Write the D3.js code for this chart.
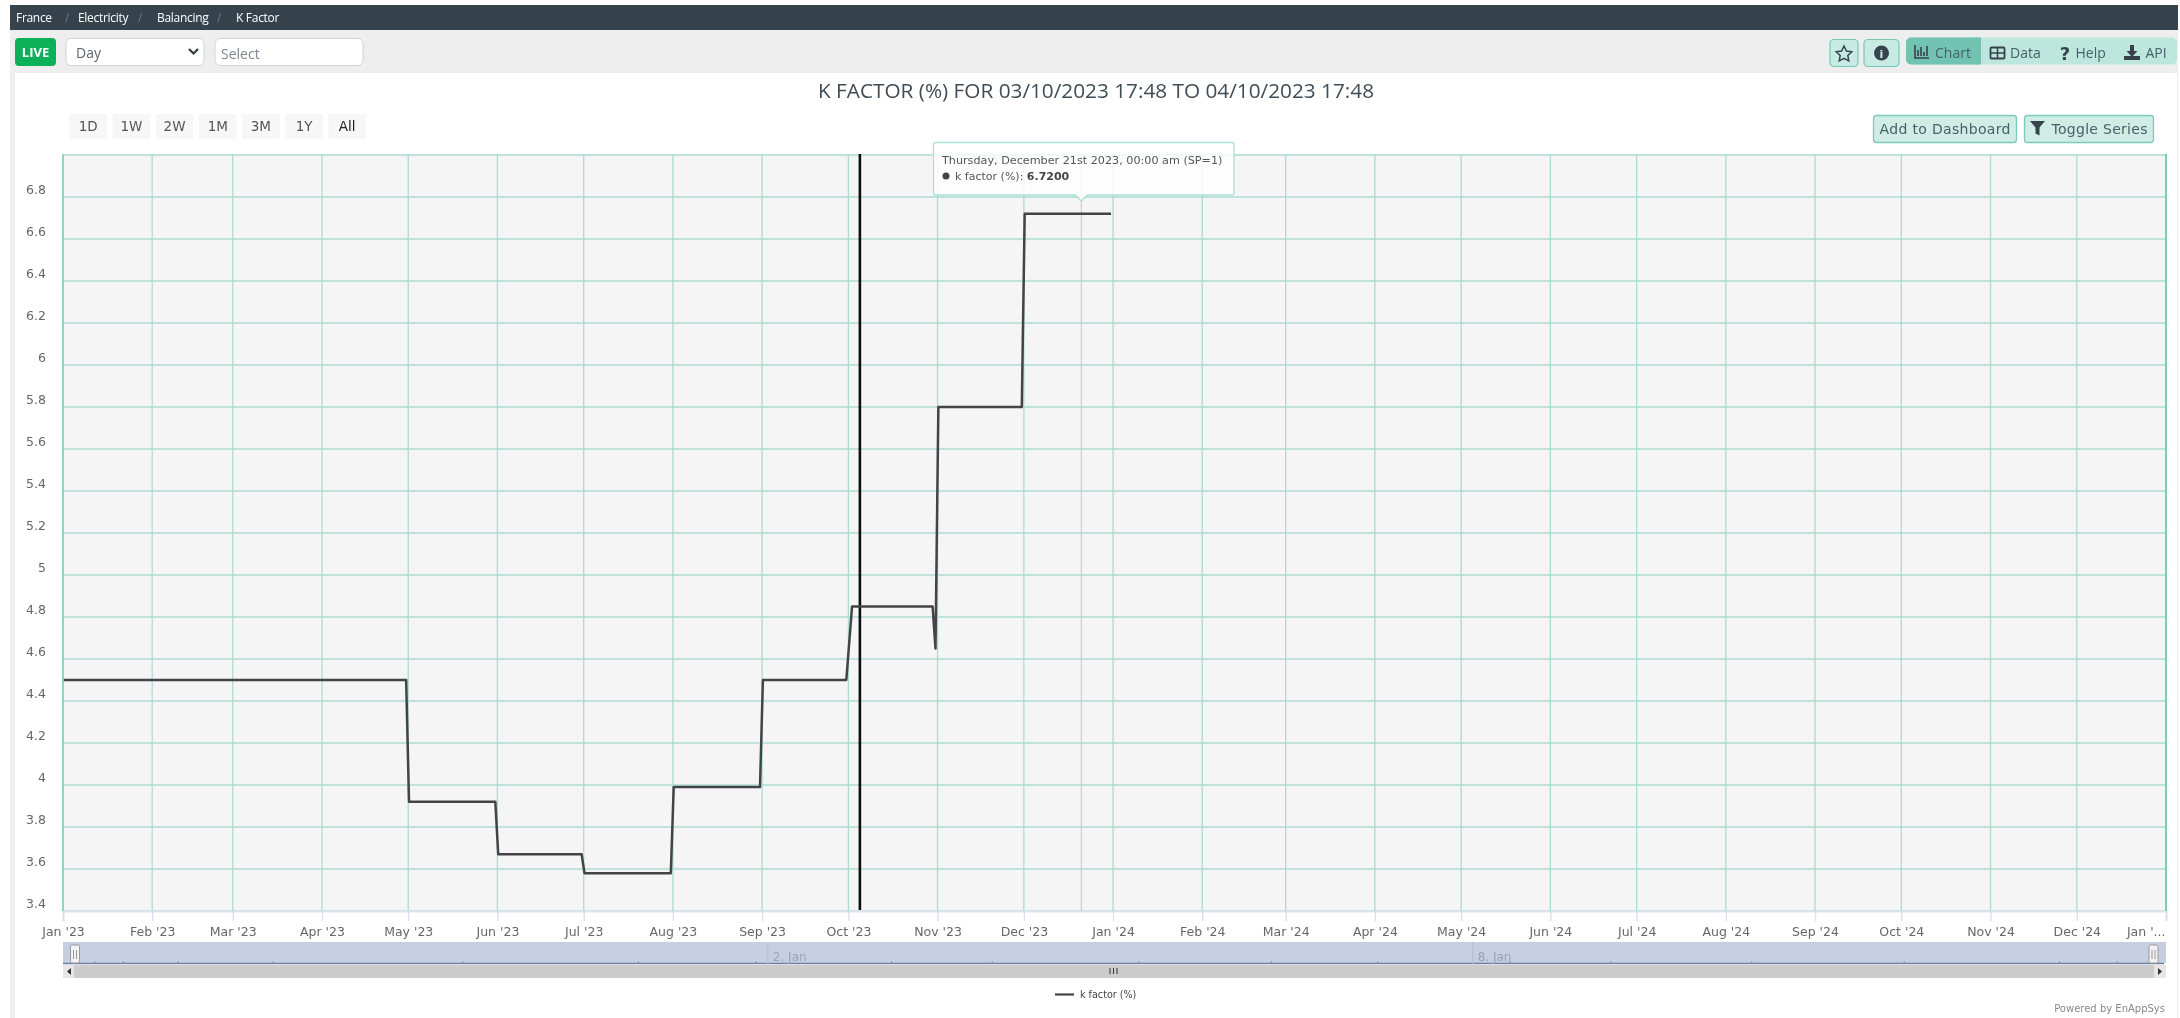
<!DOCTYPE html>
<html><head><meta charset="utf-8">
<script src="https://cdn.jsdelivr.net/npm/d3@7"></script>
<style>
html,body{margin:0;padding:0;background:#fff;overflow:hidden}
svg{display:block;filter:blur(0.45px)}
text{font-family:"DejaVu Sans",sans-serif}
.os{font-family:"Open Sans",sans-serif}
</style></head><body><svg id="c" width="2180" height="1018"></svg>
<script>
const breadcrumb=["France","Electricity","Balancing","K Factor"];
const rangeButtons=["1D","1W","2W","1M","3M","1Y","All"];
const titleText="K FACTOR (%) FOR 03/10/2023 17:48 TO 04/10/2023 17:48";
const seriesName="k factor (%)";
const stepDates=["2023-01-01","2023-04-30","2023-05-01","2023-05-31","2023-06-01","2023-06-30","2023-07-01","2023-07-31","2023-08-01","2023-08-31","2023-09-01","2023-09-30","2023-10-02","2023-10-30","2023-10-31","2023-11-01","2023-11-30","2023-12-01","2023-12-31"];
const stepValues=[4.5,4.5,3.92,3.92,3.67,3.67,3.58,3.58,3.99,3.99,4.5,4.5,4.85,4.85,4.65,5.8,5.8,6.72,6.72];
const yTicks=[3.4,3.6,3.8,4,4.2,4.4,4.6,4.8,5,5.2,5.4,5.6,5.8,6,6.2,6.4,6.6,6.8,7];
const yHiddenLabels=[7];
const xMonths=["2023-01-01","2023-02-01","2023-03-01","2023-04-01","2023-05-01","2023-06-01","2023-07-01","2023-08-01","2023-09-01","2023-10-01","2023-11-01","2023-12-01","2024-01-01","2024-02-01","2024-03-01","2024-04-01","2024-05-01","2024-06-01","2024-07-01","2024-08-01","2024-09-01","2024-10-01","2024-11-01","2024-12-01","2025-01-01"];
const markerDate="2023-10-05";
const hoverDate="2023-12-21";
const tooltipLine1="Thursday, December 21st 2023, 00:00 am (SP=1)";
const tooltipValue="6.7200";
const navLabels=[["2. Jan","2023-09-03"],["8. Jan","2024-05-05"]];
const navTickDates=["2023-01-12","2023-01-22","2023-02-10","2023-03-15","2023-05-20","2023-07-20","2023-08-30","2023-10-16","2023-11-20","2024-01-10","2024-02-25","2024-04-02","2024-05-18","2024-06-22","2024-08-10","2024-10-02","2024-11-25","2024-12-15"];

const P=d=>d3.utcParse("%Y-%m-%d")(d);
const svg=d3.select("#c");
const L=63,R=2166,T=154,B=911;
const x=d3.scaleUtc().domain([P("2023-01-01"),P("2025-01-01")]).range([L,R]);
const y=d3.scaleLinear().domain([3.4,7]).range([B,T+1]);
const rect=(a,b,w,h,f,o={})=>svg.append("rect").attr("x",a).attr("y",b).attr("width",w).attr("height",h).attr("fill",f).attr("rx",o.r||0).attr("stroke",o.s||"none").attr("stroke-width",o.sw||1);
const txt=(a,b,s,size,f,o={})=>svg.append("text").attr("x",a).attr("y",b).text(s).attr("font-size",size).attr("fill",f).attr("text-anchor",o.a||"start").attr("font-weight",o.w||"normal").attr("class",o.c||null);

// page chrome
rect(10,30,2168,988,"#eeeeee");
rect(15,73,2162,945,"#ffffff");
rect(10,5,2168,25,"#36434c");
const crumbX=[16,78,157,236];
breadcrumb.forEach((b,i)=>{txt(crumbX[i],22,b,12,"#ffffff",{c:"os"}).attr("letter-spacing","-0.3");
 if(i<3) txt(crumbX[i]+[49,60,60][i],22,"/",12,"#6d7a83",{c:"os"});});
// toolbar
rect(15,38,41,28,"#0cb058",{r:4});
txt(35.5,57,"LIVE",13,"#ffffff",{a:"middle",w:"bold",c:"os"});
rect(66,38.5,138,27,"#ffffff",{r:5,s:"#ced4da"});
txt(76,58,"Day",14,"#5b6670",{c:"os"});
svg.append("path").attr("d","M189 49l4.500 4.500 4.500-4.500").attr("fill","none").attr("stroke","#343a40").attr("stroke-width",2.2);
rect(215,38.5,148,27,"#ffffff",{r:5,s:"#ced4da"});
txt(221,59,"Select",14,"#7d8790",{c:"os"});
// right toolbar
rect(1830,39.500,28,27,"#c7eae2",{r:4,s:"#74c8b6",sw:1.2});
svg.append("path").attr("d","M1844 46l2.400 5 5.400.7-4 3.800 1 5.400-4.800-2.600-4.800 2.600 1-5.400-4-3.800 5.400-.7z").attr("fill","none").attr("stroke","#38454e").attr("stroke-width",1.5);
rect(1864,39.500,35,27,"#c7eae2",{r:4,s:"#74c8b6",sw:1.2});
svg.append("circle").attr("cx",1881.500).attr("cy",53).attr("r",7.500).attr("fill","#36434c");
txt(1881.500,57.500,"i",11,"#c7eae2",{a:"middle",w:"bold"});
rect(1906,37.500,271,27,"#bde6dd",{r:5});
rect(1906,37.500,75,27,"#72c3b1",{r:5});
rect(1975,37.500,6,27,"#72c3b1");
svg.append("path").attr("d","M1915 45v13h14M1918 50v6M1921 47v9M1924 52v4M1927 46v10").attr("fill","none").attr("stroke","#36434c").attr("stroke-width",1.6);
txt(1935,58,"Chart",14,"#47606a",{c:"os"});
rect(1990.500,47.500,14,11,"none",{s:"#36434c",sw:1.8,r:1});
svg.append("path").attr("d","M1990 53h15M1997.500 47v11").attr("stroke","#36434c").attr("stroke-width",1.5);
txt(2010,58,"Data",14,"#47606a",{c:"os"});
txt(2065,60,"?",18,"#36434c",{a:"middle",w:"bold"});
txt(2075.500,58,"Help",14,"#47606a",{c:"os"});
svg.append("path").attr("d","M2125 45h4v6h3.500l-5.500 6-5.500-6h3.500zM2119 56h16v4h-16z").attr("fill","#36434c").attr("transform","translate(5,0)");
txt(2145.500,58,"API",14,"#47606a",{c:"os"});
// title
txt(1096,98,titleText,20,"#3f4c55",{a:"middle",c:"os"}).attr("textLength",556).attr("lengthAdjust","spacingAndGlyphs");
// range buttons
const btnX=d3.scaleBand().domain(rangeButtons).range([69.5,366]).paddingInner(0.13).paddingOuter(0);
rangeButtons.forEach(b=>{rect(btnX(b),114,btnX.bandwidth(),25,"#f7f7f7");
 txt(btnX(b)+btnX.bandwidth()/2,130.5,b,13.5,b==="All"?"#222":"#555",{a:"middle"});});
// action buttons
rect(1873.500,115.500,143,27,"#cfece5",{r:3,s:"#7dcab8",sw:1.3});
txt(1945,134,"Add to Dashboard",14,"#47606a",{a:"middle"}).attr("textLength",131);
rect(2024.500,115.500,129,27,"#cfece5",{r:3,s:"#7dcab8",sw:1.3});
svg.append("path").attr("d","M2030 121h15l-5.500 6.500v8l-4-2v-6z").attr("fill","#36434c");
txt(2051.500,134,"Toggle Series",14,"#47606a").attr("textLength",96);

// plot
rect(L,T,R-L,B-T,"#f5f5f5");
const gridC="#abdcd1";
svg.append("g").selectAll("line").data(yTicks).join("line")
 .attr("x1",L).attr("x2",R).attr("y1",d=>y(d)).attr("y2",d=>y(d)).attr("stroke",gridC).attr("stroke-width",1.3);
const xAxis=d3.axisBottom(x).tickValues(xMonths.map(P)).tickSize(10).tickPadding(6)
 .tickFormat((d,i)=>i===xMonths.length-1?"Jan '...":d3.utcFormat("%b '%y")(d));
const gx=svg.append("g").attr("transform",`translate(0,${B})`).call(xAxis);
gx.select(".domain").attr("stroke","#dfe3f0").attr("stroke-width",2);
gx.selectAll(".tick line").attr("stroke","#d8dff0").attr("stroke-width",1.3);
gx.selectAll(".tick text").attr("font-size",12.5).attr("fill","#666").attr("font-family","DejaVu Sans");
gx.selectAll(".tick").filter((d,i)=>i===xMonths.length-1).select("text").attr("text-anchor","end").attr("dx",-1);
svg.append("g").selectAll("line").data(xMonths.map(P)).join("line")
 .attr("x1",d=>x(d)).attr("x2",d=>x(d)).attr("y1",T).attr("y2",B).attr("stroke",gridC).attr("stroke-width",1.3);
const yAxis=d3.axisLeft(y).tickValues(yTicks.filter(t=>!yHiddenLabels.includes(t))).tickSize(0).tickPadding(0).tickFormat(d3.format("~g"));
const gy=svg.append("g").attr("transform",`translate(46,-7.5)`).call(yAxis);
gy.select(".domain").remove();
gy.selectAll(".tick text").attr("font-size",12.5).attr("fill","#666").attr("font-family","DejaVu Sans");
// plot edges
svg.append("line").attr("x1",R).attr("x2",R).attr("y1",T).attr("y2",B).attr("stroke","#7fcbb9").attr("stroke-width",2);
svg.append("line").attr("x1",L).attr("x2",L).attr("y1",T).attr("y2",B).attr("stroke","#7fcbb9").attr("stroke-width",1.4);
// crosshair + marker
svg.append("line").attr("x1",x(P(hoverDate))).attr("x2",x(P(hoverDate))).attr("y1",T).attr("y2",B).attr("stroke","#cccccc").attr("stroke-width",1.2);
svg.append("line").attr("x1",x(P(markerDate))).attr("x2",x(P(markerDate))).attr("y1",T).attr("y2",B-1).attr("stroke","#0d0d0d").attr("stroke-width",2.6);
// series
const line=d3.line().x((d,i)=>x(P(stepDates[i]))+0.8).y(d=>y(d));
svg.append("path").datum(stepValues).attr("d",line).attr("fill","none").attr("stroke","#434348").attr("stroke-width",2.5).attr("stroke-linejoin","round");
// tooltip
const hx=x(P(hoverDate));
svg.append("path").attr("d",`M933.500 144.500a2 2 0 0 1 2-2H1232a2 2 0 0 1 2 2V193a2 2 0 0 1-2 2H${hx+6}l-6 6-6-6H935.500a2 2 0 0 1-2-2z`)
 .attr("fill","rgba(255,255,255,0.8)").attr("stroke","#aee0d4").attr("stroke-width",1.3);
txt(942,164,tooltipLine1,11.2,"#555");
svg.append("circle").attr("cx",946).attr("cy",176).attr("r",3.500).attr("fill","#434348");
const t2=txt(955,179.500,seriesName+": ",11,"#555");
t2.append("tspan").text(tooltipValue).attr("font-weight","bold").attr("fill","#444");
// navigator
rect(L,942,R-L,21,"#c6cfe2");
svg.append("line").attr("x1",L).attr("x2",R-2).attr("y1",963.500).attr("y2",963.500).attr("stroke","#6f7fa3").attr("stroke-width",1.6);
svg.append("g").selectAll("line").data(navTickDates.map(P)).join("line").attr("x1",d=>x(d)).attr("x2",d=>x(d)).attr("y1",961).attr("y2",964).attr("stroke","#7f8db0");
navLabels.forEach(([s,d])=>{
 txt(x(P(d))+5,961,s,12,"#98a3bd");
 svg.append("line").attr("x1",x(P(d))).attr("x2",x(P(d))).attr("y1",942).attr("y2",964).attr("stroke","#b4bed4");
});
// scrollbar
rect(L,965,R-L,13,"#cccccc");
rect(L,965,11,13,"#e6e6e6");
rect(R-12,965,12,13,"#e6e6e6");
svg.append("path").attr("d",`M71 968v7l-4-3.500z`).attr("fill","#333");
svg.append("path").attr("d",`M${R-8} 968v7l4-3.500z`).attr("fill","#333");
svg.append("path").attr("d","M1110 968v6M1113.500 968v6M1117 968v6").attr("stroke","#333").attr("stroke-width",1);
[70.500,2149].forEach(a=>{rect(a,945,9,18,"#f2f2f2",{r:1.500,s:"#999"});
 svg.append("path").attr("d",`M${a+3} 950v9M${a+6} 950v9`).attr("stroke","#999");});
// legend
svg.append("line").attr("x1",1055).attr("x2",1074).attr("y1",994.500).attr("y2",994.500).attr("stroke","#434348").attr("stroke-width",2.2);
txt(1080,998,seriesName,9.6,"#444");
txt(2165,1012,"Powered by EnAppSys",10,"#888",{a:"end"});
</script></body></html>
